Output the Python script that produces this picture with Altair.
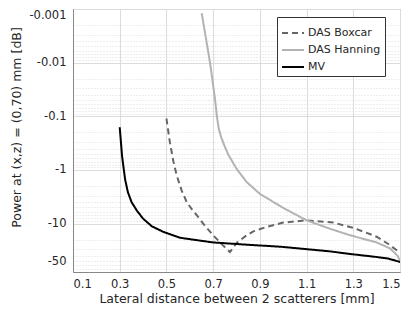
import altair as alt
import pandas as pd

# Data (magnitude of power in dB; plotted as negative values)
mv_x = [0.30, 0.31, 0.323, 0.335, 0.351, 0.373, 0.40, 0.437, 0.487, 0.558, 0.70, 0.858, 0.987, 1.10, 1.20, 1.30, 1.40, 1.45, 1.50]
mv_y = [0.16, 0.55, 1.5, 2.6, 4.0, 5.7, 8.1, 11.2, 14.3, 18.4, 22.5, 25.0, 27.0, 30.0, 33.0, 37.5, 42.0, 45.0, 52.0]

box_x = [0.50, 0.515, 0.53, 0.544, 0.565, 0.587, 0.61, 0.63, 0.665, 0.70, 0.74, 0.772, 0.80, 0.84, 0.872, 0.93, 1.0, 1.10, 1.215, 1.30, 1.40, 1.45, 1.50]
box_y = [0.11, 0.31, 0.7, 1.27, 2.4, 4.0, 5.5, 7.0, 11.0, 16.5, 25.0, 34.0, 23.0, 17.0, 14.0, 11.5, 9.6, 8.7, 9.6, 12.0, 17.6, 24.0, 35.0]

han_x = [0.651, 0.687, 0.708, 0.716, 0.724, 0.735, 0.748, 0.765, 0.80, 0.844, 0.90, 1.0, 1.10, 1.20, 1.286, 1.40, 1.457, 1.49, 1.50]
han_y = [0.0012, 0.0102, 0.048, 0.1, 0.17, 0.25, 0.35, 0.52, 0.95, 1.69, 2.8, 5.1, 8.7, 12.5, 16.5, 22.5, 29.0, 40.0, 50.0]

series = ["DAS Boxcar", "DAS Hanning", "MV"]
colors = ["#666666", "#b3b3b3", "#000000"]
dashes = [[6, 4], [1, 0], [1, 0]]

x_ticks = [0.1, 0.3, 0.5, 0.7, 0.9, 1.1, 1.3, 1.5]
y_labels = [0.001, 0.01, 0.1, 1, 10, 50]
y_major = [0.001, 0.01, 0.1, 1, 10]
y_minor = [round(k * 10 ** e, 6) for e in range(-3, 2) for k in range(2, 10) if k * 10 ** e <= 80]
y_values = sorted(set(y_major + y_labels + y_minor))

rows = []
for name, xs, ys in [("DAS Boxcar", box_x, box_y), ("DAS Hanning", han_x, han_y), ("MV", mv_x, mv_y)]:
    for i, (a, b) in enumerate(zip(xs, ys)):
        rows.append({"series": name, "x": a, "y": b, "order": i})
df = pd.DataFrame(rows)

font = "DejaVu Sans"
text_color = "#262626"

major_list = "[" + ",".join(str(v) for v in y_major) + "]"
label_list = "[" + ",".join(str(v) for v in y_labels) + "]"

legend = alt.Legend(
    title=None, orient="none", legendX=204, legendY=8,
    symbolType="stroke", symbolSize=484, symbolStrokeWidth=2,
    labelFont=font, labelFontSize=11, labelColor=text_color,
    strokeColor="#333333", fillColor="white", padding=4, rowPadding=-6,
    labelOffset=3, cornerRadius=0,
)

chart = alt.Chart(df).mark_line(strokeWidth=2, clip=True).encode(
    x=alt.X("x:Q", scale=alt.Scale(domain=[0.1, 1.5], nice=False, zero=False),
            axis=alt.Axis(values=x_ticks, format=".1f", title="Lateral distance between 2 scatterers [mm]",
                          labelFont=font, labelFontSize=11.5, labelColor=text_color,
                          titleFont=font, titleFontSize=12.5, titleFontWeight="normal", titleColor=text_color,
                          ticks=False, labelPadding=6, titlePadding=3,
                          grid=True, gridColor="#dcdcdc", gridWidth=1,
                          domainColor="#888888")),
    y=alt.Y("y:Q", scale=alt.Scale(type="log", domain=[0.001, 80], reverse=True, nice=False),
            axis=alt.Axis(values=y_values, title="Power at (x,z) = (0,70) mm [dB]",
                          labelExpr="indexof(" + label_list + ", datum.value) >= 0 ? '-' + toString(datum.value) : ''",
                          labelOverlap=False, labelFlush=True,
                          labelFont=font, labelFontSize=11.5, labelColor=text_color,
                          titleFont=font, titleFontSize=12.5, titleFontWeight="normal", titleColor=text_color,
                          ticks=False, labelPadding=7,
                          titleX=-57, titleY=118, titleBaseline="middle",
                          grid=True, gridColor="#dcdcdc", gridWidth=1,
                          gridDash={"condition": {"test": "indexof(" + major_list + ", datum.value) < 0", "value": [1, 2]}, "value": []},
                          domainColor="#888888")),
    color=alt.Color("series:N", scale=alt.Scale(domain=series, range=colors), legend=legend),
    strokeDash=alt.StrokeDash("series:N", scale=alt.Scale(domain=series, range=dashes), legend=legend),
    order="order:Q",
).properties(
    width=327, height=263,
    padding={"left": 65, "top": 1, "right": 1, "bottom": 34},
    autosize="none",
).configure_view(stroke="#888888", strokeWidth=1)

chart.save("out.html", embed_options={"renderer": "svg", "actions": False})
